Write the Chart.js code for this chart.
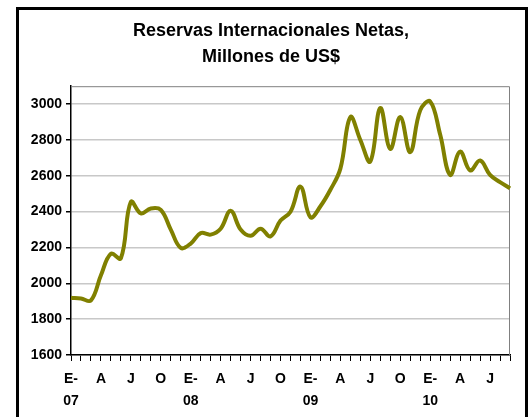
<!DOCTYPE html>
<html>
<head>
<meta charset="utf-8">
<script src="https://cdn.jsdelivr.net/npm/chart.js@4.4.0/dist/chart.umd.min.js"></script>
<style>
    html, body { margin: 0; padding: 0; background: #fff; }
    #wrap { position: relative; width: 532px; height: 417px; overflow: hidden; }
    #frame {
        position: absolute; left: 16px; top: 7px; width: 512px; height: 440px;
        box-sizing: border-box; border: 3px solid #000;
    }
    #chart { position: absolute; left: 0; top: 0; }
</style>
</head>
<body>
<div id="wrap">
    <div id="frame"></div>
    <canvas id="chart" width="532" height="417"></canvas>
</div>
<script>
// Months Jan-2007 .. Sep-2010 (E = Enero)
const categories = [
    "E-07", "F", "M", "A", "M", "J", "J", "A", "S", "O", "N", "D",
    "E-08", "F", "M", "A", "M", "J", "J", "A", "S", "O", "N", "D",
    "E-09", "F", "M", "A", "M", "J", "J", "A", "S", "O", "N", "D",
    "E-10", "F", "M", "A", "M", "J", "J", "A", "S"
];

// Reservas internacionales netas, millones de US$
const reservas = [
    1920, 1915, 1905, 2045, 2165, 2140, 2455, 2390, 2418, 2410, 2300, 2198,
    2222, 2280, 2272, 2305, 2405, 2300, 2265, 2305, 2262, 2350, 2400, 2540,
    2368, 2430, 2522, 2640, 2928, 2800, 2680, 2978, 2750, 2928, 2732, 2965,
    3015, 2830, 2605, 2735, 2630, 2685, 2605, 2565, 2530
];

const yTicks = [1600, 1800, 2000, 2200, 2400, 2600, 2800, 3000];
const titleLines = ["Reservas Internacionales Netas,", "Millones de US$"];

const fontFamily = "'Liberation Sans', Arial, Helvetica, sans-serif";

// gray top/right border of the plot area
const plotFrame = {
    id: "plotFrame",
    beforeDatasetsDraw(chart) {
        const { ctx, chartArea: a } = chart;
        ctx.save();
        ctx.strokeStyle = "#808080";
        ctx.lineWidth = 1;
        ctx.beginPath();
        ctx.moveTo(a.left, a.top + 0.5);
        ctx.lineTo(a.right - 0.5, a.top + 0.5);
        ctx.lineTo(a.right - 0.5, a.bottom);
        ctx.stroke();
        ctx.restore();
    }
};

new Chart(document.getElementById("chart"), {
    type: "line",
    data: {
        labels: categories,
        datasets: [{
            label: "Reservas",
            data: reservas,
            borderColor: "#808000",
            borderWidth: 4,
            pointRadius: 0,
            tension: 0.4,
            fill: false
        }]
    },
    options: {
        responsive: false,
        animation: false,
        layout: { padding: { left: 10, right: 0, top: 0, bottom: 0 } },
        plugins: {
            legend: { display: false },
            tooltip: { enabled: false },
            title: {
                display: true,
                text: titleLines,
                color: "#000",
                font: { family: fontFamily, size: 18, weight: "bold", lineHeight: 1.45 },
                padding: { top: 18, bottom: 16 }
            }
        },
        scales: {
            x: {
                type: "category",
                offset: false,
                afterFit: (scale) => { scale.height = 62; },
                border: { color: "#000", width: 1.5 },
                grid: {
                    drawOnChartArea: false,
                    drawTicks: true,
                    tickLength: 6,
                    tickColor: "#000",
                    tickWidth: 1
                },
                ticks: {
                    autoSkip: false,
                    maxRotation: 0,
                    padding: 7,
                    color: "#000",
                    font: { family: fontFamily, size: 14, weight: "bold", lineHeight: 1.57 },
                    callback: function (value, index) {
                        if (index % 3 !== 0) return "";
                        const lab = categories[index];
                        if (lab.indexOf("-") >= 0) {
                            const parts = lab.split("-");
                            return [parts[0] + "-", parts[1]];
                        }
                        return lab;
                    }
                }
            },
            y: {
                min: 1600,
                max: 3100,
                afterFit: (scale) => { scale.width = 61; },
                afterBuildTicks: (scale) => { scale.ticks = yTicks.map(v => ({ value: v })); },
                border: { color: "#000", width: 1.5 },
                grid: {
                    color: "#c8c8c8",
                    lineWidth: 1.5,
                    tickColor: "#000",
                    tickLength: 5
                },
                ticks: {
                    padding: 4,
                    color: "#000",
                    font: { family: fontFamily, size: 14, weight: "bold" },
                    callback: (value) => String(value)
                }
            },
            // empty spacer on the right so the title stays centred on the frame
            spacer: {
                type: "linear",
                position: "right",
                min: 0,
                max: 1,
                afterFit: (scale) => { scale.width = 22; },
                border: { display: false },
                grid: { display: false },
                ticks: { display: false }
            }
        }
    },
    plugins: [plotFrame]
});
</script>
</body>
</html>
